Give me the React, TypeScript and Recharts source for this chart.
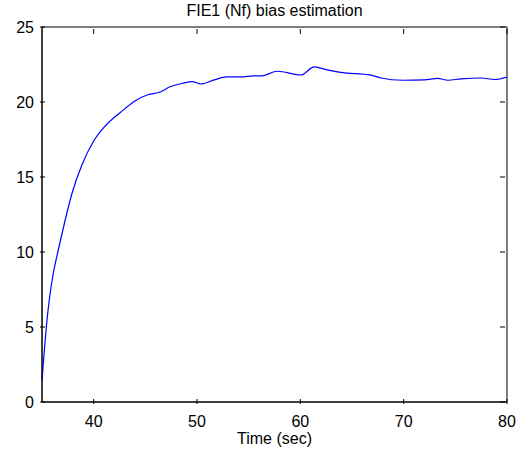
import { Line, LineChart, ReferenceArea, XAxis, YAxis } from 'recharts'

const times = [
  35, 35.23, 35.42, 35.7, 36.1, 36.5, 36.86, 37.25, 37.9, 38.86, 40.0, 41.12, 42.58, 44.0,
  45.3, 46.3, 47.45, 48.6, 49.55, 50.36, 51.65, 52.9, 54.2, 55.5, 56.2, 57.8, 60.05, 61.34,
  62.6, 63.9, 66.8, 67.8, 69.9, 72.0, 73.3, 74.26, 75.55, 77.5, 78.8, 80,
]
const bias = [
  1.45, 3.46, 5.0, 6.8, 8.6, 9.9, 11.0, 12.15, 13.9, 15.8, 17.4, 18.4, 19.3, 20.07,
  20.5, 20.63, 21.03, 21.25, 21.36, 21.2, 21.47, 21.67, 21.67, 21.74, 21.74, 22.05, 21.8,
  22.34, 22.14, 21.97, 21.79, 21.6, 21.45, 21.47, 21.58, 21.45, 21.54, 21.6, 21.5, 21.67,
]
const xTicks = [40, 50, 60, 70, 80]
const yTicks = [0, 5, 10, 15, 20, 25]

const chartData = times.map((t, i) => ({ t, v: bias[i] }))

const W = 521
const H = 452
const margin = { top: 27, right: 14, bottom: 0, left: 0 }
const yAxisWidth = 42
const xAxisHeight = 50
const plotW = W - margin.left - margin.right - yAxisWidth
const plotH = H - margin.top - margin.bottom - xAxisHeight

const font = { fontFamily: '"Liberation Sans", Arial, sans-serif', fontSize: 16, fill: '#000' }

// MATLAB-style inward ticks, mirrored on the top / right edge of the box
function BottomTick({ x, y, payload }: any) {
  return (
    <g>
      <line x1={x} y1={y} x2={x} y2={y - 5} stroke="#000" strokeWidth={1} />
      <line x1={x} y1={y - plotH} x2={x} y2={y - plotH + 5} stroke="#000" strokeWidth={1} />
      <text x={x} y={y + 23} textAnchor="middle" {...font}>
        {payload.value}
      </text>
    </g>
  )
}

function LeftTick({ x, y, payload }: any) {
  return (
    <g>
      <line x1={x} y1={y} x2={x + 5} y2={y} stroke="#000" strokeWidth={1} />
      <line x1={x + plotW} y1={y} x2={x + plotW - 5} y2={y} stroke="#000" strokeWidth={1} />
      <text x={x - 6} y={y + 6} textAnchor="end" {...font}>
        {payload.value}
      </text>
    </g>
  )
}

export default function App() {
  return (
    <div style={{ position: 'absolute', left: 0, top: 0, width: W, height: H, background: '#fff' }}>
      <div
        style={{
          position: 'absolute',
          left: yAxisWidth,
          width: plotW,
          top: 0,
          textAlign: 'center',
          fontFamily: '"Liberation Sans", Arial, sans-serif',
          fontSize: 16,
          lineHeight: '22px',
        }}
      >
        FIE1 (Nf) bias estimation
      </div>
      <LineChart width={W} height={H} data={chartData} margin={margin}>
        <XAxis
          dataKey="t"
          type="number"
          domain={[35, 80]}
          ticks={xTicks}
          interval={0}
          height={xAxisHeight}
          tickSize={0}
          tick={<BottomTick />}
          axisLine={{ stroke: '#000' }}
          label={{ value: 'Time (sec)', position: 'insideBottom', offset: 8, ...font }}
        />
        <YAxis
          type="number"
          domain={[0, 25]}
          ticks={yTicks}
          interval={0}
          width={yAxisWidth}
          tickSize={0}
          tick={<LeftTick />}
          axisLine={{ stroke: '#000' }}
        />
        <ReferenceArea
          x1={35}
          x2={80}
          y1={0}
          y2={25}
          ifOverflow="visible"
          fill="#fff"
          fillOpacity={0}
          stroke="#000"
          strokeWidth={1}
          strokeOpacity={1}
        />
        <Line
          type="monotone"
          dataKey="v"
          stroke="#0000ff"
          strokeWidth={1.2}
          dot={false}
          isAnimationActive={false}
        />
      </LineChart>
    </div>
  )
}
